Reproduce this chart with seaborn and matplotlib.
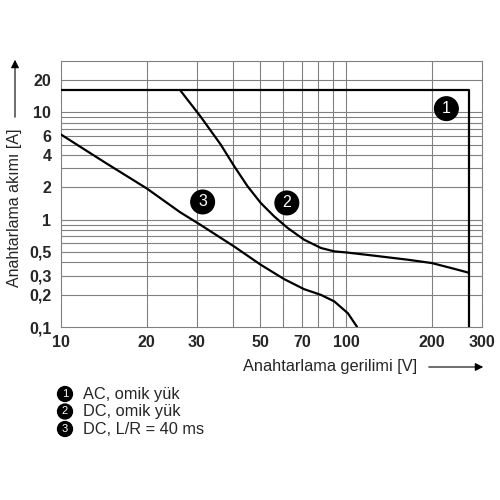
import numpy as np
import pandas as pd
import matplotlib
matplotlib.use("Agg")
import matplotlib.pyplot as plt
import seaborn as sns

# curve 1: AC, resistive load
ac_v = [10, 270, 270]
ac_i = [16, 16, 0.1]
# curve 2: DC, resistive load
dc_v = [26.2, 30.8, 36.3, 40.5, 45.1, 50.2, 56.0, 62.4, 71.3, 81.7, 91, 100,
        126, 165, 200, 234, 270]
dc_i = [16, 9.2, 5.02, 3.15, 2.05, 1.43, 1.07, 0.836, 0.65, 0.544, 0.506, 0.495,
        0.461, 0.423, 0.394, 0.354, 0.32]
# curve 3: DC, L/R = 40 ms
dcl_v = [10, 14.3, 20, 26.2, 30.8, 40.5, 50.2, 60.7, 71.3, 81.7, 91, 101.6, 109.4]
dcl_i = [6.2, 3.39, 1.95, 1.17, 0.897, 0.562, 0.38, 0.279, 0.225, 0.199, 0.173, 0.134, 0.1]

x_ticks = [10, 20, 30, 50, 70, 100, 200, 300]
x_labels = ["10", "20", "30", "50", "70", "100", "200", "300"]
y_ticks = [0.1, 0.2, 0.3, 0.5, 1, 2, 4, 6, 10, 20]
y_labels = ["0,1", "0,2", "0,3", "0,5", "1", "2", "4", "6", "10", "20"]
x_grid = [20, 30, 40, 50, 60, 70, 80, 90, 100, 200]
y_grid = [0.2, 0.3, 0.4, 0.5, 0.6, 0.7, 0.8, 0.9, 1, 2, 3, 4, 5, 6, 7, 8, 9, 10, 20]

legend_items = ["AC, omik yük", "DC, omik yük", "DC, L/R = 40 ms"]
# label positions (V, A) of the numbered circles
mark_pos = [(225, 10.8), (62, 1.43), (31.4, 1.46)]

df = pd.concat([
    pd.DataFrame({"U": ac_v, "I": ac_i, "curve": "1"}),
    pd.DataFrame({"U": dc_v, "I": dc_i, "curve": "2"}),
    pd.DataFrame({"U": dcl_v, "I": dcl_i, "curve": "3"}),
])

sns.set_style("white")
plt.rcParams["font.family"] = ["Liberation Sans", "DejaVu Sans"]

fig = plt.figure(figsize=(5, 5), dpi=100)
ax = fig.add_axes([0.122, 0.346, 0.842, 0.532])
ax.set_xscale("log")
ax.set_yscale("log")

for v in x_grid:
    ax.axvline(v, color="#808080", lw=0.8, zorder=1)
for v in y_grid:
    ax.axhline(v, color="#808080", lw=0.8, zorder=1)

sns.lineplot(data=df, x="U", y="I", units="curve", estimator=None, sort=False,
             color="black", lw=1.6, ax=ax, zorder=3)

ax.set_xlim(10, 300)
ax.set_ylim(0.1, 30)
ax.set_xticks(x_ticks)
ax.set_xticklabels(x_labels, fontsize=11.5, fontweight="bold")
ax.set_yticks(y_ticks)
ax.set_yticklabels(y_labels, fontsize=11.5, fontweight="bold")
ax.minorticks_off()
ax.tick_params(axis="y", length=0, pad=7)
ax.tick_params(axis="x", length=0, pad=6)
ax.set_xlabel("")
ax.set_ylabel("")
for s in ax.spines.values():
    s.set_color("#808080")
    s.set_linewidth(0.8)

for k, (x, y) in enumerate(mark_pos):
    ax.text(x, y, str(k + 1), ha="center", va="center", color="white",
            fontsize=11.5, zorder=5,
            bbox=dict(boxstyle="circle,pad=0.27", fc="black", ec="black"))

# axis labels with arrows
fig.text(15 / 500, 1 - 208 / 500, "Anahtarlama akımı [A]", rotation=90,
         ha="center", va="center", fontsize=11.5)
ax.annotate("", xy=(15, 500 - 57), xytext=(15, 500 - 120), xycoords="figure pixels",
            arrowprops=dict(arrowstyle="-|>", color="black", lw=0.8, mutation_scale=12))
fig.text(243 / 500, 1 - 367 / 500, "Anahtarlama gerilimi [V]", ha="left",
         va="center", fontsize=11.8)
ax.annotate("", xy=(486, 500 - 367), xytext=(426, 500 - 367), xycoords="figure pixels",
            arrowprops=dict(arrowstyle="-|>", color="black", lw=0.8, mutation_scale=12))

for k, txt in enumerate(legend_items):
    yy = 1 - (394 + 17.5 * k) / 500
    fig.text(65 / 500, yy, str(k + 1), ha="center", va="center", color="white",
             fontsize=8, bbox=dict(boxstyle="circle,pad=0.22", fc="black", ec="black"))
    fig.text(83 / 500, yy, txt, ha="left", va="center", fontsize=11.8)

fig.savefig("out.png", dpi=100)
